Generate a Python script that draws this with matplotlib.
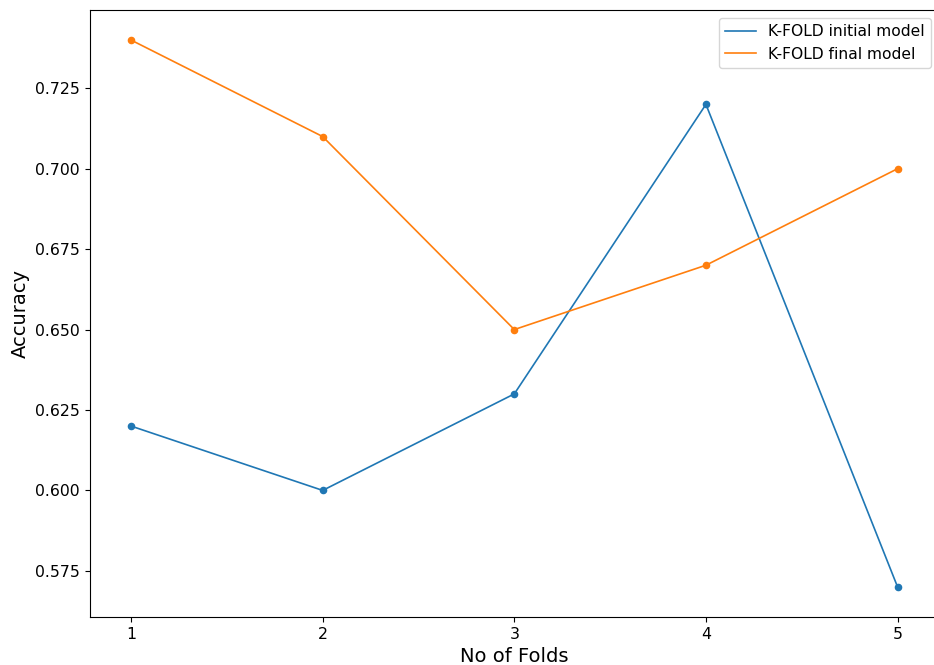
import numpy as np
import matplotlib.pyplot as plt

folds = [1, 2, 3, 4, 5]
acc_initial = [0.62, 0.60, 0.63, 0.72, 0.57]
acc_final = [0.74, 0.71, 0.65, 0.67, 0.70]

fig = plt.figure(figsize=(9.34, 6.65), dpi=100)
# axes runs slightly past the right edge, as in the cropped original
ax = fig.add_axes([0.096, 0.0722, 0.9093, 0.9128])

ax.plot(folds, acc_initial, color='#1f77b4', lw=1.2, label='K-FOLD initial model')
ax.scatter(folds, acc_initial, color='#1f77b4', s=20)
ax.plot(folds, acc_final, color='#ff7f0e', lw=1.2, label='K-FOLD final model')
ax.scatter(folds, acc_final, color='#ff7f0e', s=20)

ax.margins(x=0.054, y=0.055)
ax.set_xticks(folds)
ax.tick_params(labelsize=11.3)
ax.set_xlabel('No of Folds', fontsize=14)
ax.set_ylabel('Accuracy', fontsize=14)
ax.legend(loc='upper right', fontsize=11.2)

fig.savefig('out.png', dpi=100)
